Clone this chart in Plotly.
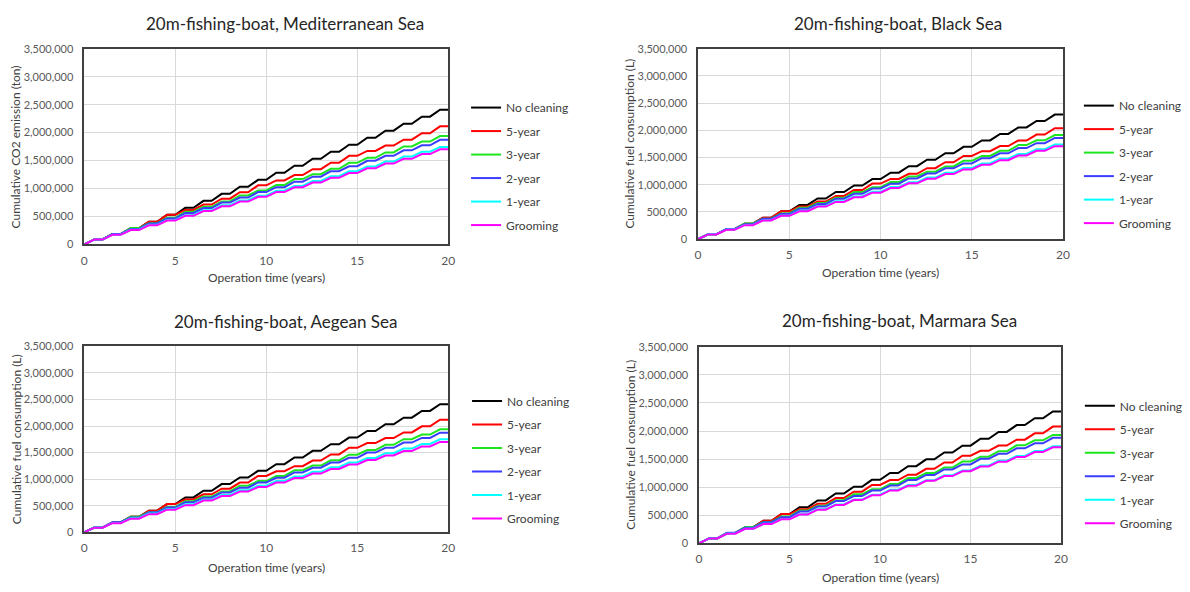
import plotly.graph_objects as go

# ---------------- DATA (cumulative values at the end of each year, thousands) ----------------
years = list(range(0, 21))
series_names = ["No cleaning", "5-year", "3-year", "2-year", "1-year", "Grooming"]
x_ticks = [0, 5, 10, 15, 20]
y_ticks = [0, 500000, 1000000, 1500000, 2000000, 2500000, 3000000, 3500000]

med_no_cleaning = [0, 88, 184, 289, 404, 528, 653, 779, 904, 1030, 1155, 1281, 1406, 1532, 1657, 1783, 1908, 2034, 2159, 2285, 2410]
med_5year = [0, 88, 184, 289, 404, 528, 616, 712, 817, 932, 1056, 1144, 1240, 1345, 1460, 1584, 1672, 1768, 1873, 1988, 2112]
med_3year = [0, 88, 185, 292, 380, 477, 584, 672, 769, 876, 964, 1061, 1168, 1256, 1353, 1460, 1548, 1645, 1752, 1840, 1937]
med_2year = [0, 89, 187, 276, 374, 463, 561, 650, 748, 837, 935, 1024, 1122, 1211, 1309, 1398, 1496, 1585, 1683, 1772, 1870]
med_1year = [0, 87, 174, 262, 349, 436, 523, 610, 698, 785, 872, 959, 1046, 1134, 1221, 1308, 1395, 1482, 1570, 1657, 1744]
med_grooming = [0, 85, 170, 255, 340, 425, 510, 595, 680, 765, 850, 935, 1020, 1105, 1190, 1275, 1360, 1445, 1530, 1615, 1700]

black_no_cleaning = [0, 87, 181, 283, 393, 510, 629, 747, 866, 985, 1103, 1222, 1341, 1459, 1578, 1697, 1815, 1934, 2053, 2171, 2290]
black_5year = [0, 87, 181, 283, 393, 510, 597, 691, 793, 903, 1020, 1107, 1201, 1303, 1413, 1530, 1617, 1711, 1813, 1923, 2040]
black_3year = [0, 88, 184, 288, 376, 472, 576, 664, 760, 864, 952, 1048, 1152, 1240, 1336, 1440, 1528, 1624, 1728, 1816, 1912]
black_2year = [0, 89, 186, 275, 372, 461, 558, 647, 744, 833, 930, 1019, 1116, 1205, 1302, 1391, 1488, 1577, 1674, 1763, 1860]
black_1year = [0, 87, 174, 261, 348, 435, 522, 609, 696, 783, 870, 957, 1044, 1131, 1218, 1305, 1392, 1479, 1566, 1653, 1740]
black_grooming = [0, 85, 171, 256, 342, 427, 512, 598, 683, 769, 854, 939, 1025, 1110, 1196, 1281, 1366, 1452, 1537, 1623, 1708]

aegean_no_cleaning = [0, 88, 184, 289, 405, 530, 655, 780, 906, 1031, 1156, 1281, 1407, 1532, 1657, 1782, 1907, 2033, 2158, 2284, 2410]
aegean_5year = [0, 88, 184, 289, 405, 530, 618, 714, 819, 935, 1060, 1148, 1244, 1349, 1465, 1590, 1678, 1774, 1879, 1995, 2120]
aegean_3year = [0, 88, 185, 292, 380, 477, 584, 672, 769, 876, 964, 1061, 1168, 1256, 1353, 1460, 1548, 1645, 1752, 1840, 1937]
aegean_2year = [0, 89, 188, 276, 375, 464, 563, 651, 750, 839, 938, 1026, 1125, 1214, 1313, 1401, 1500, 1589, 1688, 1776, 1875]
aegean_1year = [0, 88, 175, 263, 350, 438, 525, 613, 700, 788, 875, 963, 1050, 1138, 1225, 1313, 1400, 1488, 1575, 1663, 1750]
aegean_grooming = [0, 85, 170, 255, 340, 425, 510, 595, 680, 765, 850, 935, 1020, 1105, 1190, 1275, 1360, 1445, 1530, 1615, 1700]

marmara_no_cleaning = [0, 87, 182, 286, 399, 520, 642, 764, 886, 1008, 1130, 1252, 1374, 1496, 1618, 1740, 1862, 1984, 2106, 2228, 2350]
marmara_5year = [0, 87, 182, 286, 399, 520, 607, 702, 806, 919, 1040, 1127, 1222, 1326, 1439, 1560, 1647, 1742, 1846, 1959, 2080]
marmara_3year = [0, 88, 185, 291, 379, 476, 582, 670, 767, 873, 961, 1058, 1164, 1252, 1349, 1455, 1543, 1640, 1746, 1834, 1931]
marmara_2year = [0, 89, 188, 277, 376, 465, 564, 653, 752, 841, 940, 1029, 1128, 1217, 1316, 1405, 1504, 1593, 1692, 1781, 1880]
marmara_1year = [0, 87, 173, 260, 346, 433, 519, 606, 692, 779, 865, 952, 1038, 1125, 1211, 1298, 1384, 1471, 1557, 1644, 1730]
marmara_grooming = [0, 86, 171, 257, 342, 428, 513, 599, 684, 770, 855, 941, 1026, 1112, 1197, 1283, 1368, 1454, 1539, 1625, 1710]

panel_titles = ["20m-fishing-boat, Mediterranean Sea", "20m-fishing-boat, Black Sea",
                "20m-fishing-boat, Aegean Sea", "20m-fishing-boat, Marmara Sea"]
y_titles = ["Cumulative CO2 emission (ton)", "Cumulative fuel consumption (L)",
            "Cumulative fuel consumption (L)", "Cumulative fuel consumption (L)"]
x_title = "Operation time (years)"

panel_data = [
    [med_no_cleaning, med_5year, med_3year, med_2year, med_1year, med_grooming],
    [black_no_cleaning, black_5year, black_3year, black_2year, black_1year, black_grooming],
    [aegean_no_cleaning, aegean_5year, aegean_3year, aegean_2year, aegean_1year, aegean_grooming],
    [marmara_no_cleaning, marmara_5year, marmara_3year, marmara_2year, marmara_1year, marmara_grooming],
]

# ---------------- STYLE / LAYOUT ----------------
W, H = 1190, 592
colors = ["#000000", "#FF0000", "#1EE61E", "#3C3CFF", "#00FFFF", "#FF00FF"]
SEASON = 0.55  # fraction of each year with operation (rise), rest flat
FONT = "Lato"

# plot boxes in pixels: (left, top, right, bottom)
boxes = [(82, 42.7, 449, 242.7), (701, 42.7, 1069, 237.3),
         (82, 347, 449, 537), (702, 347.5, 1067, 548.3)]
title_pos = [(284, 17), (903, 17), (285, 322), (904, 321)]
ytitle_x = [13, 632, 13, 632]
xtitle_y = [277, 271, 573, 583]
legend_pos = [(467, 88), (1085, 86), (468, 388), (1086, 393)]


def px(x):
    return x / W


def py(y):
    return 1 - y / H


def expand(vals):
    xs, ys = [years[0]], [vals[0] * 1000]
    for k in range(len(years) - 1):
        xs += [years[k] + SEASON, years[k + 1]]
        ys += [vals[k + 1] * 1000, vals[k + 1] * 1000]
    return xs, ys


fig = go.Figure()
annotations = []
layout = dict(
    width=W, height=H, margin=dict(l=0, r=0, t=0, b=0),
    paper_bgcolor="white", plot_bgcolor="white",
    font=dict(family=FONT, color="#404040"),
    showlegend=True,
)

for i in range(4):
    sfx = "" if i == 0 else str(i + 1)
    legend_name = "legend" if i == 0 else f"legend{i + 1}"
    for j, name in enumerate(series_names):
        xs, ys = expand(panel_data[i][j])
        fig.add_trace(go.Scatter(
            x=xs, y=ys, mode="lines", name=name,
            line=dict(color=colors[j], width=2),
            xaxis="x" + sfx, yaxis="y" + sfx,
            legend=legend_name, legendgroup=f"g{i}_{j}",
            hoverinfo="skip",
        ))
    l, t, r, b = boxes[i]
    layout["xaxis" + sfx] = dict(
        domain=[px(l), px(r)], anchor="y" + sfx, range=[0, 20],
        tickvals=x_ticks, showgrid=True, gridcolor="#D9D9D9", gridwidth=1,
        showline=True, mirror=True, linecolor="#404040", linewidth=1.5,
        ticks="outside", ticklen=4, tickcolor="rgba(0,0,0,0)",
        tickfont=dict(family=FONT, size=12, color="#595959"), zeroline=False,
    )
    layout["yaxis" + sfx] = dict(
        domain=[py(b), py(t)], anchor="x" + sfx, range=[0, 3500000],
        tickvals=y_ticks, tickformat=",d", showgrid=True, gridcolor="#D9D9D9",
        gridwidth=1, showline=True, mirror=True, linecolor="#404040", linewidth=1.5,
        ticks="outside", ticklen=7, tickcolor="rgba(0,0,0,0)",
        tickfont=dict(family=FONT, size=11, color="#595959"), zeroline=False,
    )
    lx, ly = legend_pos[i]
    layout[legend_name] = dict(
        x=px(lx), y=py(ly), xanchor="left", yanchor="top",
        font=dict(family=FONT, size=12, color="#404040"),
        tracegroupgap=4.5, bgcolor="rgba(0,0,0,0)", itemclick=False,
    )
    tx, ty = title_pos[i]
    annotations.append(dict(text=panel_titles[i], x=px(tx), y=py(ty), xref="paper", yref="paper",
                            showarrow=False, xanchor="center", yanchor="middle",
                            font=dict(family=FONT, size=17, color="#262626")))
    annotations.append(dict(text=y_titles[i], x=px(ytitle_x[i]), y=py((t + b) / 2), xref="paper",
                            yref="paper", showarrow=False, textangle=-90, xanchor="center",
                            yanchor="middle", font=dict(family=FONT, size=12, color="#404040")))
    annotations.append(dict(text=x_title, x=px((l + r) / 2), y=py(xtitle_y[i]), xref="paper",
                            yref="paper", showarrow=False, xanchor="center", yanchor="middle",
                            font=dict(family=FONT, size=12, color="#404040")))

layout["annotations"] = annotations
fig.update_layout(**layout)
fig.write_html("out.html")
